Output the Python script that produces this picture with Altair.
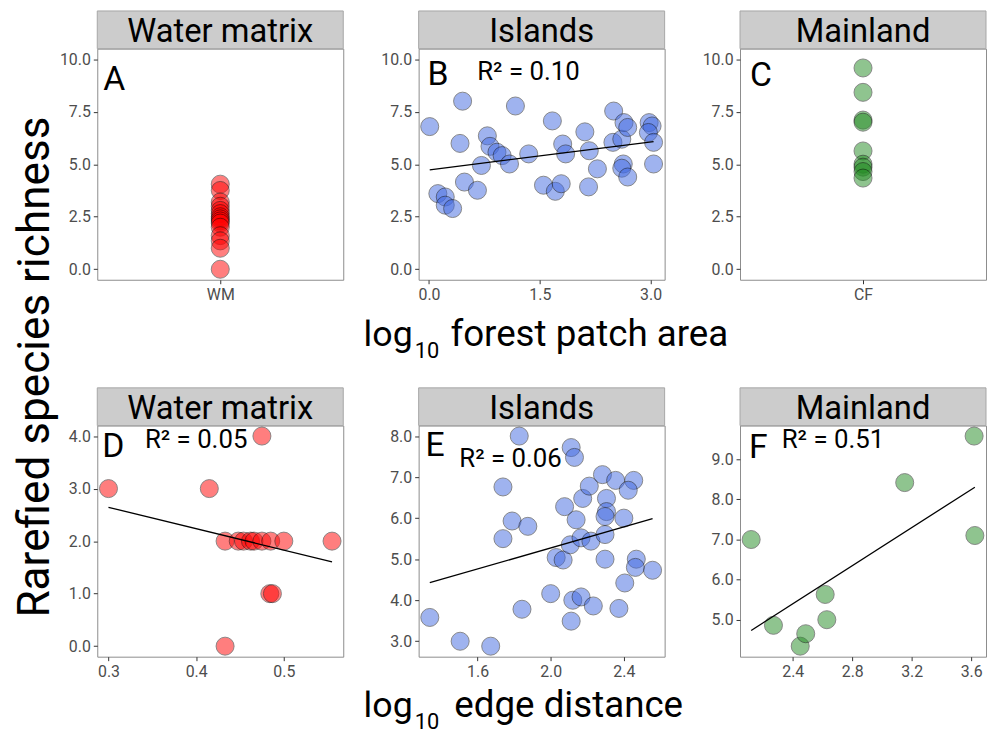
import altair as alt
import pandas as pd

FONT = "Roboto"

# ---------------- data ----------------
# A: Water matrix (categorical)
a_cat = ["WM"] * 15
a_y = [4.05, 3.75, 3.2, 3.0, 2.8, 2.65, 2.5, 2.4, 2.3, 2.2, 2.0, 1.6, 1.35, 1.0, 0.0]

# B: Islands, log10 forest patch area
b_x = [0.01, 0.455, 0.12, 0.22, 0.22, 0.32, 0.48, 0.42, 0.656, 0.71, 0.79, 0.826, 0.92, 0.99,
       1.09, 1.17, 1.35, 1.55, 1.67, 1.71, 1.79, 1.81, 1.85, 2.11, 2.17, 2.16, 2.28, 2.50,
       2.49, 2.61, 2.64, 2.69, 2.63, 2.61, 2.69, 2.98, 3.02, 2.97, 3.04, 3.04]
b_y = [6.79, 8.0, 3.6, 3.44, 3.05, 2.89, 4.15, 5.99, 3.76, 4.94, 6.35, 5.85, 5.57, 5.41,
       5.01, 7.77, 5.49, 4.0, 7.06, 3.71, 4.07, 5.96, 5.49, 6.54, 5.64, 3.92, 4.78, 7.53,
       6.04, 6.19, 6.98, 6.75, 5.01, 4.81, 4.39, 6.98, 6.82, 6.51, 6.04, 5.01]

# C: Mainland (categorical)
c_cat = ["CF"] * 9
c_y = [9.58, 8.42, 7.1, 7.0, 5.63, 5.0, 4.86, 4.65, 4.34]

# D: Water matrix, log10 edge distance
d_x = [0.3, 0.415, 0.475, 0.433, 0.484, 0.487, 0.555, 0.433, 0.448, 0.454, 0.462, 0.466,
       0.475, 0.485, 0.5]
d_y = [3, 3, 4, 0, 1, 1, 2, 2, 2, 2, 2, 2, 2, 2, 2]

# E: Islands, log10 edge distance
e_x = [1.339, 1.505, 1.672, 1.828, 1.739, 1.739, 1.789, 1.875, 1.843, 2.0, 2.03, 2.068,
       2.076, 2.107, 2.139, 2.112, 2.130, 2.121, 2.112, 2.166, 2.233, 2.175, 2.211, 2.166,
       2.22, 2.283, 2.355, 2.454, 2.424, 2.305, 2.305, 2.297, 2.4, 2.297, 2.297, 2.405,
       2.373, 2.468, 2.463, 2.557]
e_y = [3.58, 3.0, 2.88, 8.0, 6.76, 5.5, 5.93, 5.80, 3.78, 4.16, 5.04, 4.98, 6.28, 5.35,
       5.96, 7.72, 7.48, 4.0, 3.49, 4.08, 3.86, 6.48, 6.78, 5.52, 5.44, 7.06, 6.92, 6.92,
       6.68, 6.48, 6.16, 6.04, 6.0, 5.6, 5.0, 4.42, 3.8, 5.0, 4.8, 4.73]

# F: Mainland, log10 edge distance
f_x = [2.12, 2.27, 2.45, 2.487, 2.618, 2.629, 3.153, 3.62, 3.625]
f_y = [7.0, 4.86, 4.34, 4.65, 5.63, 5.0, 8.42, 9.58, 7.1]

strip_titles = ["Water matrix", "Islands", "Mainland"]
panel_letters = ["A", "B", "C", "D", "E", "F"]
r2_labels = {"B": "R² = 0.10", "D": "R² = 0.05", "E": "R² = 0.06", "F": "R² = 0.51"}

tick_b_x = [0.0, 1.5, 3.0]
tick_top_y = [0.0, 2.5, 5.0, 7.5, 10.0]
tick_d_x = [0.3, 0.4, 0.5]
tick_d_y = [0.0, 1.0, 2.0, 3.0, 4.0]
tick_e_x = [1.6, 2.0, 2.4]
tick_e_y = [3.0, 4.0, 5.0, 6.0, 7.0, 8.0]
tick_f_x = [2.4, 2.8, 3.2, 3.6]
tick_f_y = [5.0, 6.0, 7.0, 8.0, 9.0]

RED, BLUE, GREEN = "#FF0000", "#4169E1", "#228B22"

W, H = 248, 233
STRIP_H = 38
LABEL_SIZE = 16
one = pd.DataFrame({"k": [0]})


def text(label, x, y, size, align="left", baseline="alphabetic", angle=0):
    kw = dict(text=label, font=FONT, fontSize=size, align=align, baseline=baseline, color="black")
    if angle:
        kw["angle"] = angle
    return alt.Chart(one).mark_text(**kw).encode(x=alt.value(x), y=alt.value(y))


def panel(df, xenc, yenc, color, strip, letter, letter_xy, r2=None, r2_xy=None,
          fit=False, extra=()):
    layers = [
        alt.Chart(one).mark_rect(fill="#CCCCCC", stroke="#A6A6A6", strokeWidth=1).encode(
            x=alt.value(0), x2=alt.value(W), y=alt.value(-STRIP_H), y2=alt.value(0)),
        text(strip, W / 2, -17, 33, align="center", baseline="middle"),
    ]
    pts = alt.Chart(df).mark_circle(size=330, color=color, stroke="black",
                                    strokeWidth=0.9, opacity=0.5).encode(x=xenc, y=yenc)
    layers.append(pts)
    if fit:
        layers.append(
            alt.Chart(df).transform_regression("x", "y").mark_line(
                color="black", strokeWidth=1.3).encode(x=xenc, y=yenc))
    layers.append(text(letter, letter_xy[0], letter_xy[1], 34))
    if r2:
        layers.append(text(r2, r2_xy[0], r2_xy[1], 26))
    layers.extend(extra)
    return alt.layer(*layers).properties(width=W, height=H)


def qx(ticks, dom):
    return alt.X("x:Q", scale=alt.Scale(domain=dom, nice=False, zero=False),
                 axis=alt.Axis(values=ticks, format=".1f", title=None))


def qy(ticks, dom):
    return alt.Y("y:Q", scale=alt.Scale(domain=dom, nice=False, zero=False),
                 axis=alt.Axis(values=ticks, format=".1f", title=None))


def cx(cat):
    return alt.X("x:N", scale=alt.Scale(domain=[cat], type="point", padding=0.5),
                 axis=alt.Axis(title=None, labelAngle=0, labelFontSize=LABEL_SIZE))


df_a = pd.DataFrame({"x": a_cat, "y": a_y})
df_b = pd.DataFrame({"x": b_x, "y": b_y})
df_c = pd.DataFrame({"x": c_cat, "y": c_y})
df_d = pd.DataFrame({"x": d_x, "y": d_y})
df_e = pd.DataFrame({"x": e_x, "y": e_y})
df_f = pd.DataFrame({"x": f_x, "y": f_y})

ytitle = text("Rarefied species richness", -62, 321, 44.5, align="center",
              baseline="middle", angle=270)
# invisible layout anchor (fixes the chart's top-left corner)
anchor = alt.Chart(one).mark_rect(opacity=0).encode(
    x=alt.value(-95), x2=alt.value(-94), y=alt.value(-60), y2=alt.value(-59))

pA = panel(df_a, cx("WM"), qy(tick_top_y, [-0.5, 10.5]), RED, strip_titles[0],
           panel_letters[0], (6, 42), extra=[ytitle, anchor])

xt_b = [text("log", -6, 300, 36, align="right"),
        text("10", -4, 312, 22),
        text("forest patch area", 32, 300, 37)]
pB = panel(df_b, qx(tick_b_x, [-0.14, 3.19]), qy(tick_top_y, [-0.5, 10.5]), BLUE,
           strip_titles[1], panel_letters[1], (9, 37), r2_labels["B"], (59, 32),
           fit=True, extra=xt_b)

pC = panel(df_c, cx("CF"), qy(tick_top_y, [-0.5, 10.5]), GREEN, strip_titles[2],
           panel_letters[2], (10, 38))

pD = panel(df_d, qx(tick_d_x, [0.2872, 0.5678]), qy(tick_d_y, [-0.2, 4.2]), RED,
           strip_titles[0], panel_letters[3], (5, 32), r2_labels["D"], (48, 23), fit=True)

xt_e = [text("log", -6, 294, 36, align="right"),
        text("10", -4, 306, 22),
        text("edge distance", 36, 294, 37)]
pE = panel(df_e, qx(tick_e_x, [1.278, 2.623]), qy(tick_e_y, [2.624, 8.256]), BLUE,
           strip_titles[1], panel_letters[4], (7, 31), r2_labels["E"], (41, 42),
           fit=True, extra=xt_e)

pF = panel(df_f, qx(tick_f_x, [2.045, 3.70]), qy(tick_f_y, [4.078, 9.842]), GREEN,
           strip_titles[2], panel_letters[5], (9, 33), r2_labels["F"], (42, 23), fit=True)

chart = alt.concat(pA, pB, pC, pD, pE, pF, columns=3,
                   spacing={"row": 147, "column": 76}, bounds="flush").properties(
    padding={"left": -6, "top": -23, "right": 0, "bottom": 0}
).configure_view(
    stroke="#8C8C8C", strokeWidth=1
).configure_axis(
    grid=False, domain=False, tickColor="#333333", tickSize=4, tickWidth=1,
    labelColor="#4D4D4D", labelFontSize=LABEL_SIZE, labelFont=FONT, labelPadding=3
)

chart.save("out.html", embed_options={"renderer": "svg", "actions": False})
